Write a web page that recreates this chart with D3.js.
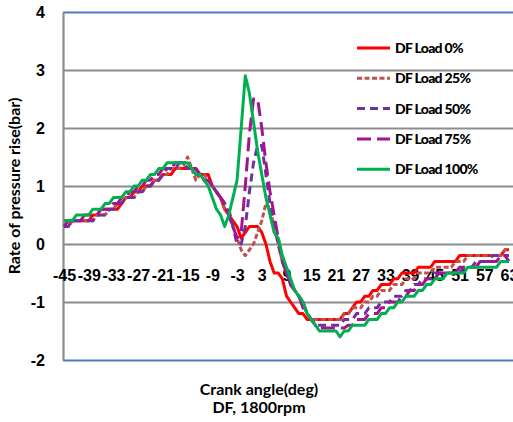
<!DOCTYPE html>
<html lang="en">
<head>
<meta charset="UTF-8">
<title>Rate of pressure rise</title>
<style>
  body { margin: 0; background: #fff; }
  svg { display: block; font-family: Lato, "Open Sans", sans-serif; }
  .tick text { font-size: 16px; font-weight: bold; fill: #000; }
  .axis-title { font-size: 16px; font-weight: bold; fill: #000; }
  .legend-label { font-size: 14px; font-weight: 900; letter-spacing: -0.7px; fill: #000; }
</style>
</head>
<body>
<svg id="chart" width="513" height="422"></svg>
<script src="https://d3js.org/d3.v7.min.js"></script>
<script>
// crank angle, deg (one point per degree)
const angles = [
  -45,-44,-43,-42,-41,-40,-39,-38,-37,-36,
  -35,-34,-33,-32,-31,-30,-29,-28,-27,-26,
  -25,-24,-23,-22,-21,-20,-19,-18,-17,-16,
  -15,-14,-13,-12,-11,-10,-9,-8,-7,-6,
  -5,-4,-3,-2,-1,0,1,2,3,4,
  5,6,7,8,9,10,11,12,13,14,
  15,16,17,18,19,20,21,22,23,24,
  25,26,27,28,29,30,31,32,33,34,
  35,36,37,38,39,40,41,42,43,44,
  45,46,47,48,49,50,51,52,53,54,
  55,56,57,58,59,60,61,62,63
];

// rate of pressure rise, bar
const df0 = [
  0.4,0.4,0.4,0.4,0.4,0.4,0.4,0.5,0.5,0.6,
  0.6,0.6,0.6,0.6,0.7,0.8,0.8,0.9,0.9,1.0,
  1.0,1.0,1.1,1.1,1.2,1.2,1.2,1.3,1.3,1.3,
  1.3,1.3,1.3,1.2,1.2,1.2,1.0,0.9,0.8,0.6,
  0.5,0.4,0.3,0.1,0.2,0.3,0.3,0.3,0.2,0.0,
  -0.3,-0.5,-0.5,-0.6,-0.9,-1.0,-1.1,-1.2,-1.2,-1.3,
  -1.3,-1.3,-1.3,-1.3,-1.3,-1.3,-1.3,-1.3,-1.2,-1.2,
  -1.1,-1.0,-1.0,-0.9,-0.9,-0.8,-0.8,-0.7,-0.7,-0.7,
  -0.6,-0.6,-0.5,-0.5,-0.5,-0.5,-0.4,-0.4,-0.4,-0.4,
  -0.3,-0.3,-0.3,-0.3,-0.3,-0.3,-0.2,-0.2,-0.2,-0.2,
  -0.2,-0.2,-0.2,-0.2,-0.2,-0.2,-0.2,-0.1,-0.1
];
const df25 = [
  0.3,0.3,0.4,0.4,0.4,0.4,0.4,0.4,0.5,0.5,
  0.5,0.6,0.6,0.7,0.7,0.8,0.8,0.8,0.9,0.9,
  1.0,1.0,1.1,1.1,1.2,1.2,1.3,1.3,1.3,1.35,
  1.5,1.3,1.1,1.2,1.2,1.1,1.0,0.9,0.8,0.6,
  0.5,0.3,0.1,-0.1,-0.2,-0.1,0.0,0.2,0.4,0.7,
  0.6,0.3,0.0,-0.3,-0.5,-0.7,-0.8,-0.9,-1.0,-1.2,
  -1.3,-1.3,-1.3,-1.3,-1.3,-1.3,-1.3,-1.3,-1.2,-1.2,
  -1.1,-1.1,-1.1,-1.0,-1.0,-0.9,-0.9,-0.8,-0.8,-0.8,
  -0.7,-0.7,-0.7,-0.6,-0.6,-0.6,-0.5,-0.5,-0.5,-0.5,
  -0.4,-0.4,-0.4,-0.4,-0.4,-0.3,-0.3,-0.3,-0.2,-0.2,
  -0.2,-0.2,-0.2,-0.2,-0.2,-0.2,-0.2,-0.1,-0.1
];
const df50 = [
  0.3,0.3,0.4,0.4,0.4,0.4,0.4,0.4,0.5,0.5,
  0.5,0.6,0.6,0.7,0.7,0.8,0.8,0.8,0.9,0.9,
  1.0,1.0,1.1,1.1,1.2,1.3,1.3,1.3,1.4,1.4,
  1.3,1.3,1.2,1.2,1.1,1.1,1.0,0.9,0.8,0.7,
  0.6,0.3,0.0,0.0,0.3,0.9,1.4,1.7,1.7,1.2,
  0.7,0.3,0.0,-0.3,-0.5,-0.7,-0.8,-0.9,-1.0,-1.2,
  -1.3,-1.4,-1.4,-1.4,-1.4,-1.4,-1.4,-1.4,-1.3,-1.3,
  -1.3,-1.2,-1.2,-1.2,-1.1,-1.1,-1.1,-1.0,-1.0,-1.0,
  -0.9,-0.9,-0.9,-0.8,-0.8,-0.7,-0.7,-0.6,-0.6,-0.6,
  -0.5,-0.5,-0.5,-0.5,-0.5,-0.5,-0.5,-0.4,-0.4,-0.4,
  -0.3,-0.3,-0.3,-0.3,-0.2,-0.2,-0.2,-0.2,-0.2
];
const df75 = [
  0.3,0.4,0.4,0.4,0.4,0.5,0.5,0.5,0.5,0.6,
  0.6,0.6,0.7,0.7,0.8,0.8,0.9,0.9,1.0,1.0,
  1.1,1.1,1.2,1.2,1.3,1.3,1.3,1.4,1.4,1.4,
  1.4,1.3,1.3,1.2,1.1,1.1,1.0,0.9,0.8,0.7,
  0.5,0.3,0.1,0.2,1.0,1.9,2.5,2.5,2.0,1.4,
  0.9,0.5,0.1,-0.3,-0.5,-0.7,-0.8,-0.9,-1.1,-1.2,
  -1.3,-1.4,-1.45,-1.45,-1.45,-1.45,-1.45,-1.45,-1.45,-1.4,
  -1.4,-1.3,-1.3,-1.3,-1.2,-1.2,-1.2,-1.1,-1.1,-1.0,
  -1.0,-1.0,-0.9,-0.9,-0.8,-0.8,-0.7,-0.7,-0.6,-0.6,
  -0.6,-0.5,-0.5,-0.5,-0.5,-0.5,-0.4,-0.4,-0.4,-0.4,
  -0.4,-0.3,-0.3,-0.3,-0.3,-0.3,-0.2,-0.2,-0.3
];
const df100 = [
  0.4,0.4,0.4,0.5,0.5,0.5,0.5,0.6,0.6,0.6,
  0.7,0.7,0.8,0.8,0.8,0.9,0.9,1.0,1.0,1.1,
  1.1,1.2,1.2,1.3,1.3,1.4,1.4,1.4,1.4,1.4,
  1.4,1.3,1.2,1.2,1.1,1.0,0.8,0.6,0.5,0.3,
  0.5,0.8,1.1,2.0,2.9,2.6,2.1,1.6,1.2,0.8,
  0.5,0.2,0.1,-0.2,-0.4,-0.6,-0.8,-0.9,-1.0,-1.2,
  -1.3,-1.4,-1.5,-1.5,-1.5,-1.5,-1.5,-1.6,-1.5,-1.5,
  -1.4,-1.4,-1.4,-1.4,-1.3,-1.3,-1.3,-1.2,-1.2,-1.1,
  -1.1,-1.0,-1.0,-0.9,-0.9,-0.9,-0.8,-0.8,-0.7,-0.7,
  -0.6,-0.6,-0.6,-0.5,-0.5,-0.5,-0.5,-0.5,-0.4,-0.4,
  -0.4,-0.4,-0.4,-0.4,-0.4,-0.4,-0.3,-0.3,-0.3
];

const seriesNames = ["DF Load 0%", "DF Load 25%", "DF Load 50%", "DF Load 75%", "DF Load 100%"];
const xTickLabels = [-45,-39,-33,-27,-21,-15,-9,-3,3,9,15,21,27,33,39,45,51,57,63];
const yTickLabels = [4,3,2,1,0,-1,-2];

const series = [df0, df25, df50, df75, df100].map((vals, i) => ({
  name: seriesNames[i],
  points: angles.map((a, j) => ({ a: a, v: vals[j] }))
}));

const colors = ["#ff0000", "#c0504d", "#7030a0", "#a3158f", "#00b050"];
const dashes = [null, "5,2.5", "8,5", "14,6", null];

const svg = d3.select("#chart");
const plotLeft = 63, plotTop = 12, plotBottom = 360;

const x = d3.scaleLinear().domain([-45, 63]).range([64, 509]);
const y = d3.scaleLinear().domain([-2, 4]).range([plotBottom, plotTop]);

// grid lines
svg.append("g")
  .attr("transform", `translate(${plotLeft},0)`)
  .call(d3.axisLeft(y).tickValues(yTickLabels).tickSize(-(513 - plotLeft)).tickFormat(""))
  .call(g => g.select(".domain").remove())
  .call(g => g.selectAll(".tick line")
    .attr("stroke", d => (d === 4 || d === -2) ? "#4a7ebb" : "#8c8c8c")
    .attr("stroke-width", 1.8));

// left axis
svg.append("g")
  .attr("transform", `translate(${plotLeft},0)`)
  .call(d3.axisLeft(y).tickValues(yTickLabels).tickSize(0).tickPadding(18).tickFormat(d => String(d)))
  .call(g => g.select(".domain").attr("stroke", "#8c8c8c").attr("stroke-width", 2.2))
  .call(g => g.selectAll(".tick text").attr("font-family", null).attr("font-size", null));

// category labels sit under the zero line
svg.append("g")
  .attr("transform", `translate(0,${y(0)})`)
  .call(d3.axisBottom(x).tickValues(xTickLabels).tickSize(0).tickPadding(26).tickFormat(d => String(d)))
  .call(g => g.select(".domain").remove())
  .call(g => g.selectAll(".tick text").attr("font-family", null).attr("font-size", null));

const line = d3.line().x(d => x(d.a)).y(d => y(d.v));

svg.append("g")
  .selectAll("path")
  .data(series)
  .join("path")
  .attr("d", d => line(d.points))
  .attr("fill", "none")
  .attr("stroke", (d, i) => colors[i])
  .attr("stroke-width", 3)
  .attr("stroke-linejoin", "round")
  .attr("stroke-dasharray", (d, i) => dashes[i]);

// legend
const legend = svg.append("g").attr("transform", "translate(357,48)");
const item = legend.selectAll("g")
  .data(series)
  .join("g")
  .attr("transform", (d, i) => `translate(0,${i * 30.3})`);
item.append("line")
  .attr("x1", 0).attr("x2", 33)
  .attr("stroke", (d, i) => colors[i])
  .attr("stroke-width", 3)
  .attr("stroke-dasharray", (d, i) => dashes[i]);
item.append("text")
  .attr("class", "legend-label")
  .attr("x", 38)
  .attr("dy", "0.35em")
  .text(d => d.name);

// axis titles
svg.append("text")
  .attr("class", "axis-title")
  .attr("transform", "translate(20,186) rotate(-90)")
  .attr("text-anchor", "middle")
  .text("Rate of pressure rise(bar)");

svg.append("text")
  .attr("class", "axis-title")
  .attr("x", 259).attr("y", 395)
  .attr("text-anchor", "middle")
  .text("Crank angle(deg)");

svg.append("text")
  .attr("class", "axis-title")
  .attr("x", 259).attr("y", 413)
  .attr("text-anchor", "middle")
  .text("DF, 1800rpm");
</script>
</body>
</html>
